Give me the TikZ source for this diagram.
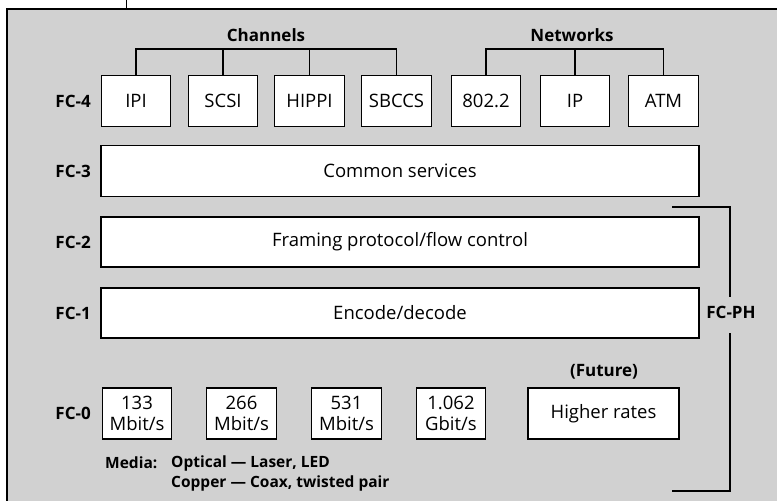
\documentclass[tikz,border=0pt]{standalone}
\usepackage{fontspec}
\setmainfont{Open Sans}
\begin{document}
\begin{tikzpicture}[x=1pt,y=-1pt,
  box/.style={draw=black,line width=1.4pt,fill=white,inner sep=0pt,minimum height=51pt,font=\fontsize{18.5}{20.5}\selectfont,align=center},
  sbox/.style={box,minimum width=69.5pt},
  layer/.style={box,minimum width=598pt},
  lab/.style={font=\bfseries\fontsize{17}{20}\selectfont,inner sep=0pt},
  mlab/.style={font=\bfseries\fontsize{15.5}{18}\selectfont,inner sep=0pt},
  conn/.style={line width=1.4pt}]
\useasboundingbox (0,0) rectangle (777,501);
\fill[black!18] (7,9) rectangle (777,501);
\draw[line width=1.4pt] (7,501) -- (7,9) -- (777,9);
\coordinate (tickA) at (126,0);
\coordinate (tickB) at (126,9);
\draw[line width=1pt] (tickA) -- (tickB);
% FC-4
\node[sbox] (ipi) at (136,101) {IPI};
\node[sbox] (scsi) at (223,101) {SCSI};
\node[sbox] (hippi) at (309.5,101) {HIPPI};
\node[sbox] (sbccs) at (396.5,101) {SBCCS};
\node[sbox] (n8022) at (486,101) {802.2};
\node[sbox] (ip) at (575,101) {IP};
\node[sbox] (atm) at (663.5,101) {ATM};
\node[lab] (channels) at (266,35) {Channels};
\node[lab] (networks) at (572,35) {Networks};
\coordinate (bar) at (0,49);
\draw[conn] (ipi.north) |- (bar -| sbccs.north) -- (sbccs.north);
\draw[conn] (scsi.north) -- (scsi.north |- bar);
\draw[conn] (hippi.north) -- (hippi.north |- bar);
\draw[conn] (n8022.north) |- (bar -| atm.north) -- (atm.north);
\draw[conn] (ip.north) -- (ip.north |- bar);
% layers
\node[layer] (fc3) at (400,171) {Common services};
\node[layer,minimum height=50pt] (fc2) at (400,242) {Framing protocol/flow control};
\node[layer,minimum height=50pt] (fc1) at (400,313) {Encode/decode};
% FC-0
\node[sbox] (r133) at (137,413.5) {133\\Mbit/s};
\node[sbox] (r266) at (241.5,413.5) {266\\Mbit/s};
\node[sbox] (r531) at (346.5,413.5) {531\\Mbit/s};
\node[sbox] (r1062) at (451,413.5) {1.062\\Gbit/s};
\node[box,minimum width=151pt] (higher) at (603.5,413.5) {Higher rates};
\node[lab] (future) at (604,372) {(Future)};
% left labels
\node[lab,anchor=east] (l4) at (91,101) {FC-4};
\node[lab,anchor=east] (l3) at (91,171) {FC-3};
\node[lab,anchor=east] (l2) at (91,242) {FC-2};
\node[lab,anchor=east] (l1) at (91,313) {FC-1};
\node[lab,anchor=east] (l0) at (91,413.5) {FC-0};
% media
\node[mlab,anchor=west] (media) at (105,463) {Media:};
\node[mlab,anchor=west] (optical) at (171,463) {Optical — Laser, LED};
\node[mlab,anchor=west] (copper) at (171,483) {Copper — Coax, twisted pair};
% FC-PH bracket
\node[lab] (fcph) at (731,312) {FC-PH};
\coordinate (phTL) at (672,207);
\coordinate (phTR) at (730,207);
\coordinate (phM1) at (730,297);
\coordinate (phM2) at (730,333);
\coordinate (phBR) at (730,491);
\coordinate (phBL) at (672,491);
\draw[conn] (phTL) -- (phTR) -- (phM1);
\draw[conn] (phM2) -- (phBR) -- (phBL);
\end{tikzpicture}
\end{document}
